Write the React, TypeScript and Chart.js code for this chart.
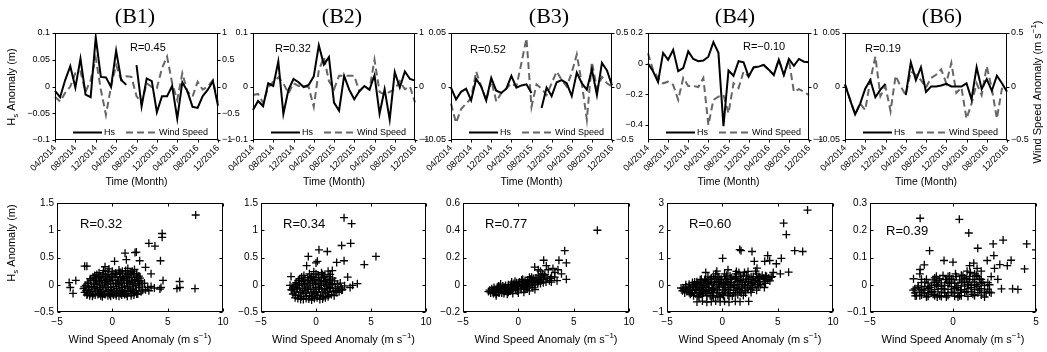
import React, { useEffect, useRef } from 'react';
import { Chart, registerables } from 'chart.js';
Chart.register(...registerables);

const SANS = "'Liberation Sans', Arial, Helvetica, sans-serif";
const SERIF = "'Liberation Serif', 'Times New Roman', serif";
Chart.defaults.font.family = SANS;
Chart.defaults.color = '#000';

// ---------- time axis ----------
const months = ['04/2014','05/2014','06/2014','07/2014','08/2014','09/2014','10/2014','11/2014','12/2014',
  '01/2015','02/2015','03/2015','04/2015','05/2015','06/2015','07/2015','08/2015','09/2015','10/2015','11/2015','12/2015',
  '01/2016','02/2016','03/2016','04/2016','05/2016','06/2016','07/2016','08/2016','09/2016','10/2016','11/2016','12/2016'];
const monthTickLabels = ['04/2014','08/2014','12/2014','04/2015','08/2015','12/2015','04/2016','08/2016','12/2016'];

// ---------- monthly anomaly series ----------
const b1Hs = [-0.008, -0.02, 0.012, 0.038, -0.002, 0.052, -0.015, -0.02, 0.092, 0.018, 0.017,
  -0.001, 0.067, 0.012, 0.003, null, 0.04, -0.037, 0.015, 0.01, -0.048, -0.018,
  -0.018, 0.001, -0.06, 0.008, -0.009, -0.038, -0.04, -0.018, -0.006, 0.01, -0.036];
const b1Wind = [-0.19, -0.28, -0.12, 0, 0.25, 0.28, -0.1, 0.12, 0.53, -0.06, -0.53,
  0, 0.4, 0.12, 0.19, 0.18, -0.18, -0.31, 0.06, -0.01, -0.03, 0.34,
  0.56, 0.06, -0.25, 0.25, -0.1, -0.19, 0.09, -0.06, 0, 0.12, -0.31];
const b2Hs = [-0.044, -0.027, -0.037, 0.006, 0.001, 0.047, -0.051, -0.006, 0.014, 0.008, -0.001,
  0.003, 0.019, 0.077, 0.041, 0.055, -0.03, -0.045, 0.02, -0.006, -0.024, -0.009,
  0.001, -0.006, 0.021, -0.051, -0.005, -0.062, 0.027, -0.002, 0.028, 0.014, 0.011];
const b2Wind = [-0.16, -0.14, -0.31, -0.02, 0.09, 0.17, 0.06, -0.13, 0.06, 0.01, 0,
  -0.01, -0.38, 0.3, 0.55, 0.1, -0.05, 0.2, 0.2, 0.2, 0.2, -0.09,
  0.01, -0.06, 0.5, -0.1, -0.15, -0.1, -0.05, 0.1, -0.05, 0, -0.3];
const b3Hs = [-0.001, -0.012, -0.005, -0.002, -0.013, 0.007, 0, -0.013, 0.008, -0.004, -0.006,
  -0.002, 0.01, -0.001, 0.001, 0.002, -0.006, null, -0.02, -0.001, -0.009, 0.004,
  0.006, 0.003, -0.009, 0.013, 0.003, -0.003, 0.016, -0.008, 0.022, 0.015, 0.001];
const b3Wind = [-0.16, -0.34, -0.21, -0.16, -0.11, 0.14, 0, -0.13, 0.06, -0.14, -0.06,
  -0.02, 0.03, 0, 0.22, 0.45, -0.19, 0.02, -0.02, -0.08, 0.03, 0.14,
  0.06, 0, 0.13, 0.3, 0.03, -0.31, 0.23, -0.02, 0.09, 0.03, 0];
const b4Hs = [0, -0.05, -0.12, 0.07, 0.025, 0.09, -0.05, -0.03, 0.08, 0.03, 0.015,
  0.02, 0.045, 0.14, 0.07, -0.41, -0.045, -0.08, 0.015, 0.008, -0.085, -0.025,
  -0.02, -0.008, -0.04, -0.075, 0.025, -0.075, 0.03, -0.015, 0.03, 0.012, 0.008];
const b4Wind = [0.62, 0.31, 0.16, 0.06, 0.09, 0.03, -0.25, 0.16, 0.01, 0.01, -0.01,
  0.16, -0.72, -0.25, -0.19, -0.16, -0.5, 0.06, -0.03, 0.28, 0.19, 0.36,
  0.38, 0.4, 0.31, 0.22, 0.5, 0.22, 0.5, -0.1, -0.05, -0.1, -0.16];
const b6Hs = [0.002, -0.0125, -0.026, -0.016, -0.002, 0.006, -0.01, -0.003, 0.0025, null, null,
  null, -0.008, 0.0225, 0.006, 0.018, -0.005, 0, 0, 0.001, 0.0025, 0,
  0, 0, 0.003, -0.012, 0.018, -0.0025, 0.007, -0.004, 0.01, 0.003, -0.005];
const b6Wind = [0.02, -0.12, -0.26, -0.16, -0.22, 0.06, 0.28, -0.09, 0, -0.23, 0.1,
  0, -0.08, 0.14, 0.11, 0.06, -0.01, 0.08, 0.11, 0.16, 0.03, 0.22,
  -0.06, -0.01, -0.3, -0.16, 0.03, -0.08, 0.19, -0.02, -0.3, -0.02, -0.02];

// ---------- scatter samples [wind anomaly, Hs anomaly] ----------
const s1Points = [
  [-2.3,-0.19],[-1.8,-0.21],[-1.3,-0.18],[-0.9,-0.22],[-0.4,-0.2],[0.1,-0.19],[0.6,-0.21],[1.1,-0.18],[1.7,-0.2],[2.2,-0.17],
  [-2.5,-0.14],[-2.0,-0.16],[-1.5,-0.13],[-1.0,-0.15],[-0.5,-0.12],[0.0,-0.16],[0.5,-0.13],[1.0,-0.15],[1.5,-0.12],[2.0,-0.14],[2.6,-0.13],[3.3,-0.11],
  [-2.6,-0.07],[-2.1,-0.09],[-1.6,-0.06],[-1.1,-0.08],[-0.6,-0.05],[-0.1,-0.09],[0.4,-0.07],[0.9,-0.1],[1.4,-0.06],[1.9,-0.08],[2.4,-0.05],[3.0,-0.09],[3.8,-0.06],[4.3,-0.08],
  [-2.4,-0.01],[-1.9,-0.03],[-1.4,0.0],[-0.9,-0.02],[-0.4,0.01],[0.1,-0.03],[0.6,0.0],[1.1,-0.02],[1.6,0.01],[2.1,-0.01],[2.7,0.02],[3.5,-0.03],
  [-2.2,0.05],[-1.7,0.03],[-1.2,0.06],[-0.7,0.04],[-0.2,0.07],[0.3,0.03],[0.8,0.05],[1.3,0.08],[1.8,0.04],[2.3,0.06],[2.9,0.03],
  [-2.0,0.11],[-1.5,0.09],[-1.0,0.12],[-0.5,0.1],[0.0,0.13],[0.5,0.09],[1.0,0.11],[1.5,0.14],[2.0,0.1],[2.5,0.12],
  [-1.6,0.17],[-1.1,0.15],[-0.6,0.18],[-0.1,0.16],[0.4,0.19],[0.9,0.15],[1.4,0.18],[1.9,0.2],[2.4,0.16],
  [-1.2,0.22],[-0.4,0.24],[0.3,0.21],[0.9,0.25],[1.6,0.23],[2.2,0.21],
  [-0.3,0.29],[0.6,0.27],[1.4,0.3],[2.0,0.28],
  [7.53,1.28],[4.5,0.94],[4.5,0.87],[3.3,0.76],[3.85,0.71],[4.35,0.44],[1.15,0.58],[2.17,0.6],[2.05,0.59],[1.27,0.46],
  [-0.66,0.33],[-2.5,0.34],[-2.3,0.34],[-3.9,0.04],[-3.3,0.08],[-3.8,-0.05],[-3.55,-0.16],[7.47,-0.07],[5.84,-0.07],[6.1,-0.05],
  [6.08,0.06],[4.58,0.08],[4.4,-0.05],[3.5,0.2],[3.0,0.32],[2.47,0.44],[0.2,0.43]];
const s1Dense = [
  [-2.05,-0.2],[-1.55,-0.19],[-1.05,-0.2],[-0.65,-0.18],[-0.15,-0.21],[0.35,-0.2],[0.85,-0.19],[1.35,-0.21],[1.95,-0.19],
  [-2.25,-0.17],[-1.75,-0.18],[-1.25,-0.16],[-0.75,-0.17],[-0.25,-0.18],[0.25,-0.17],[0.75,-0.16],[1.25,-0.17],[1.75,-0.16],[2.3,-0.17],
  [-2.35,-0.11],[-1.85,-0.12],[-1.35,-0.1],[-0.85,-0.12],[-0.35,-0.1],[0.15,-0.12],[0.65,-0.11],[1.15,-0.12],[1.65,-0.1],[2.15,-0.11],[2.75,-0.1],
  [-2.55,-0.04],[-2.15,-0.05],[-1.65,-0.03],[-1.15,-0.05],[-0.65,-0.02],[-0.15,-0.05],[0.35,-0.03],[0.85,-0.05],[1.35,-0.03],[1.85,-0.04],[2.45,-0.02],[3.2,-0.05],
  [-2.2,0.02],[-1.65,0.01],[-1.15,0.03],[-0.65,0.01],[-0.15,0.03],[0.35,0.01],[0.85,0.02],[1.35,0.03],[1.85,0.01],[2.4,0.02],
  [-1.95,0.08],[-1.45,0.07],[-0.95,0.08],[-0.45,0.06],[0.05,0.08],[0.55,0.07],[1.05,0.08],[1.55,0.06],[2.05,0.08],[2.6,0.07],
  [-1.75,0.14],[-1.25,0.13],[-0.75,0.15],[-0.25,0.13],[0.25,0.14],[0.75,0.13],[1.25,0.15],[1.75,0.13],[2.25,0.14],
  [-1.4,0.19],[-0.85,0.2],[-0.35,0.19],[0.15,0.2],[0.65,0.21],[1.15,0.2],[1.7,0.19],[2.2,0.18],
  [-0.8,0.26],[0.0,0.25],[0.7,0.23],[1.2,0.26],[1.8,0.25]];
const s2Points = [
  [-1.9,-0.24],[-1.4,-0.27],[-0.9,-0.25],[-0.4,-0.28],[0.1,-0.24],[0.6,-0.26],[1.1,-0.22],
  [-2.1,-0.17],[-1.6,-0.19],[-1.1,-0.16],[-0.6,-0.2],[-0.1,-0.17],[0.4,-0.19],[0.9,-0.15],[1.4,-0.18],[1.9,-0.14],
  [-2.2,-0.1],[-1.7,-0.08],[-1.2,-0.11],[-0.7,-0.09],[-0.2,-0.12],[0.3,-0.08],[0.8,-0.1],[1.3,-0.07],[1.8,-0.11],[2.4,-0.09],
  [-2.0,-0.03],[-1.5,-0.01],[-1.0,-0.04],[-0.5,-0.02],[0.0,-0.05],[0.5,-0.01],[1.0,-0.03],[1.5,0.0],[2.0,-0.04],[2.6,-0.02],[3.1,-0.05],
  [-1.8,0.04],[-1.3,0.06],[-0.8,0.03],[-0.3,0.05],[0.2,0.02],[0.7,0.06],[1.2,0.04],[1.7,0.07],[2.2,0.03],
  [-1.5,0.11],[-1.0,0.09],[-0.5,0.12],[0.0,0.1],[0.5,0.13],[1.0,0.1],[1.5,0.12],
  [-1.1,0.17],[-0.4,0.15],[0.2,0.18],[0.8,0.16],[1.3,0.19],
  [-0.2,0.24],[0.5,0.22],[1.1,0.25],
  [2.55,1.23],[3.24,1.12],[2.33,0.72],[3.15,0.76],[0.27,0.64],[1.03,0.61],[-0.7,0.52],[2.55,0.44],[1.88,0.41],[5.45,0.52],
  [4.39,0.37],[3.76,0.02],[3.33,-0.01],[2.88,0.14],[2.33,-0.1],[-2.27,0.15],[-2.36,-0.01],[-2.24,-0.09],[-0.85,0.35],[0.12,0.43],
  [1.48,0.26],[0.0,0.4]];
const s2Dense = [
  [-1.65,-0.25],[-1.15,-0.27],[-0.65,-0.26],[-0.15,-0.25],[0.35,-0.27],[0.85,-0.24],
  [-1.85,-0.2],[-1.35,-0.22],[-0.85,-0.21],[-0.35,-0.22],[0.15,-0.2],[0.65,-0.22],[1.15,-0.19],[1.65,-0.2],
  [-1.95,-0.13],[-1.45,-0.14],[-0.95,-0.13],[-0.45,-0.15],[0.05,-0.14],[0.55,-0.13],[1.05,-0.14],[1.55,-0.12],[2.1,-0.13],
  [-2.1,-0.06],[-1.75,-0.05],[-1.25,-0.07],[-0.75,-0.06],[-0.25,-0.08],[0.25,-0.05],[0.75,-0.07],[1.25,-0.05],[1.75,-0.07],[2.3,-0.06],
  [-1.9,0.01],[-1.55,0.02],[-1.05,0.0],[-0.55,0.02],[-0.05,0.01],[0.45,0.03],[0.95,0.0],[1.45,0.02],[1.95,0.01],
  [-1.6,0.08],[-1.15,0.07],[-0.65,0.08],[-0.15,0.07],[0.35,0.08],[0.85,0.07],[1.3,0.09],
  [-1.3,0.14],[-0.75,0.13],[-0.25,0.14],[0.25,0.13],[0.7,0.14],[1.2,0.15],
  [-0.6,0.2],[0.0,0.2],[0.6,0.19]];
const s3Points = [
  [-2.5,-0.06],[-2.4,-0.03],[-2.0,-0.07],[-2.1,-0.04],[-1.9,-0.02],[-1.5,-0.06],[-1.6,-0.035],[-1.4,-0.01],
  [-1.0,-0.05],[-1.1,-0.025],[-0.9,0.0],[-0.5,-0.04],[-0.6,-0.015],[-0.4,0.01],[0.0,-0.03],[-0.1,-0.005],[0.1,0.02],
  [0.5,-0.02],[0.4,0.005],[0.6,0.03],[1.0,-0.01],[0.9,0.015],[1.1,0.04],[1.5,0.0],[1.4,0.025],[1.6,0.05],
  [2.0,0.01],[1.9,0.035],[2.1,0.06],[2.5,0.02],[2.6,0.05],[2.4,0.075],
  [-1.75,-0.05],[-1.25,-0.02],[-0.75,-0.03],[-0.25,0.0],[0.25,-0.01],[0.75,0.01],[1.25,0.02],[1.75,0.015],[2.25,0.04],
  [-2.2,-0.055],[-0.8,-0.045],[0.3,0.035],[1.2,0.055],[-1.3,-0.065],[0.8,-0.025],[2.8,0.03],[3.0,0.06],[-1.8,-0.01],[-0.3,0.025],[1.8,0.07],
  [7.14,0.4],[4.19,0.25],[4.34,0.16],[3.67,0.18],[2.29,0.18],[2.53,0.14],[1.48,0.13],[3.13,0.12],[3.58,0.11],[4.34,0.04],
  [2.98,0.02],[-2.6,-0.04],[3.28,0.056],[2.0,0.1],[3.3,0.09],[2.7,0.11],[3.9,0.08],[1.8,0.11],[3.5,0.03]];
const s3Dense = [
  [-2.25,-0.065],[-2.3,-0.04],[-2.2,-0.02],[-1.75,-0.06],[-1.7,-0.03],[-1.65,-0.01],[-1.25,-0.05],[-1.2,-0.03],[-1.15,-0.005],
  [-0.75,-0.045],[-0.7,-0.02],[-0.65,0.005],[-0.25,-0.035],[-0.2,-0.01],[-0.15,0.015],[0.25,-0.025],[0.3,0.0],[0.35,0.025],
  [0.75,-0.015],[0.8,0.01],[0.85,0.035],[1.25,-0.005],[1.3,0.02],[1.35,0.045],[1.75,0.005],[1.8,0.03],[1.85,0.055],
  [2.25,0.015],[2.3,0.04],[2.35,0.065],[-2.7,-0.05],[-2.0,-0.05],[-1.5,-0.04],[-1.0,-0.035],[-0.5,-0.025],[0.0,-0.015],
  [0.5,-0.005],[1.0,0.005],[1.5,0.015],[2.0,0.025],[-0.9,-0.055],[-0.1,-0.045],[0.6,-0.035],[1.3,-0.02],[-1.6,0.005],
  [-0.6,0.02],[0.4,0.04],[1.0,0.055],[2.2,0.08],[2.9,0.045],
  [-2.0,-0.08],[-1.0,-0.07],[0.0,-0.06],[1.0,-0.045],[-0.5,-0.065],[0.5,-0.055],[1.5,-0.035]];
const s4Points = [
  [-3.5,-0.15],[-3.2,-0.25],[-3.0,-0.1],[-2.8,-0.3],[-2.6,-0.05],[-2.4,-0.2],[-2.2,0.05],[-2.0,-0.35],[-1.8,-0.1],[-1.6,0.15],
  [-1.5,-0.25],[-1.3,0.05],[-1.1,-0.4],[-1.0,0.25],[-0.9,-0.15],[-0.7,0.1],[-0.5,-0.3],[-0.4,0.3],[-0.3,-0.05],[-0.1,0.2],
  [0.0,-0.35],[0.1,0.05],[0.3,-0.2],[0.4,0.35],[0.5,0.1],[0.7,-0.1],[0.8,0.25],[1.0,-0.3],[1.1,0.0],[1.3,0.3],
  [1.4,-0.15],[1.6,0.15],[1.8,-0.05],[1.9,0.35],[2.1,0.1],[2.3,-0.15],[2.4,0.25],[2.6,0.05],[2.8,0.3],[3.0,0.15],
  [3.2,0.0],[3.4,0.25],[3.6,0.35],[3.8,0.2],[4.0,0.3],[4.2,0.25],[4.5,0.3],[-2.9,-0.35],[-2.5,0.1],[-1.9,0.2],
  [-1.2,-0.2],[-0.6,0.4],[-0.2,-0.45],[0.2,0.4],[0.6,-0.4],[1.2,0.4],[1.7,-0.3],[2.0,0.45],[2.7,-0.1],[-3.3,0.0],
  [-0.8,-0.45],[1.5,0.45],[3.1,0.4],[-2.1,-0.45],
  [-2.29,-0.63],[-1.8,-0.6],[-1.4,-0.64],[-1.0,-0.62],[-0.6,-0.6],[-0.2,-0.63],[0.2,-0.61],[0.6,-0.64],[1.17,-0.61],[1.6,-0.62],[2.38,-0.61],
  [7.7,2.74],[5.54,2.26],[5.78,1.84],[6.54,1.25],[7.26,1.22],[1.57,1.29],[1.69,1.25],[2.68,1.22],[0.03,0.97],[4.1,1.07],
  [2.89,0.86],[3.83,0.86],[4.28,0.89],[4.88,0.77],[5.33,0.97],[3.13,0.61],[0.51,0.55],[1.27,0.49],[2.32,0.49],[5.99,0.46],
  [5.24,0.4],[-3.73,-0.12],[-0.5,0.5],[-1.5,0.45],[3.0,0.5],[4.6,0.45]];
const s4Dense = [
  [-2.6,-0.4],[-2.2,-0.42],[-1.8,-0.38],[-1.4,-0.41],[-0.9,-0.39],[-0.4,-0.42],[0.1,-0.4],[0.5,-0.38],[0.9,-0.41],[1.4,-0.37],[1.9,-0.39],
  [-3.4,-0.3],[-3.0,-0.28],[-2.5,-0.31],[-2.1,-0.27],[-1.7,-0.3],[-1.3,-0.32],[-0.8,-0.28],[-0.3,-0.3],[0.2,-0.27],[0.7,-0.31],[1.2,-0.29],[1.6,-0.27],[2.1,-0.3],[2.6,-0.28],
  [-3.6,-0.22],[-3.1,-0.18],[-2.7,-0.2],[-2.3,-0.17],[-1.9,-0.21],[-1.4,-0.19],[-0.95,-0.22],[-0.45,-0.18],[0.05,-0.2],[0.55,-0.17],[1.05,-0.21],[1.55,-0.19],[2.05,-0.22],[2.55,-0.18],[3.1,-0.2],
  [-3.3,-0.08],[-2.9,-0.11],[-2.45,-0.09],[-2.05,-0.12],[-1.65,-0.08],[-1.2,-0.1],[-0.75,-0.12],[-0.25,-0.09],[0.25,-0.11],[0.75,-0.08],[1.25,-0.1],[1.75,-0.12],[2.25,-0.09],[2.75,-0.11],[3.3,-0.08],[3.8,-0.1],
  [-3.0,0.02],[-2.6,-0.01],[-2.1,0.01],[-1.7,-0.02],[-1.25,0.02],[-0.8,0.0],[-0.35,0.02],[0.15,-0.01],[0.6,0.01],[1.05,-0.02],[1.5,0.01],[2.0,0.0],[2.5,-0.02],[2.95,0.02],[3.45,0.0],[3.9,0.05],
  [-2.7,0.08],[-2.3,0.11],[-1.85,0.09],[-1.4,0.12],[-0.95,0.08],[-0.5,0.11],[-0.05,0.09],[0.4,0.12],[0.85,0.08],[1.35,0.11],[1.85,0.09],[2.35,0.12],[2.85,0.08],[3.35,0.11],[3.85,0.12],[4.3,0.14],
  [-2.0,0.18],[-1.55,0.21],[-1.1,0.19],[-0.65,0.22],[-0.2,0.18],[0.3,0.21],[0.75,0.19],[1.2,0.22],[1.7,0.18],[2.2,0.21],[2.7,0.19],[3.2,0.22],[3.7,0.24],[4.1,0.2],
  [-1.3,0.29],[-0.8,0.31],[-0.3,0.28],[0.2,0.3],[0.7,0.32],[1.15,0.28],[1.65,0.3],[2.2,0.32],[2.6,0.29],[3.3,0.3],[3.9,0.33],[4.4,0.27]];
const s5Points = [
  [-2.3,-0.03],[-2.0,-0.04],[-1.8,-0.02],[-1.6,-0.045],[-1.4,-0.01],[-1.2,-0.035],[-1.0,0.0],[-0.8,-0.04],[-0.6,-0.015],[-0.4,-0.045],
  [-0.2,0.005],[0.0,-0.03],[0.2,-0.01],[0.4,-0.04],[0.6,0.01],[0.8,-0.025],[1.0,0.02],[1.2,-0.035],[1.4,0.0],[1.6,-0.02],[1.8,0.01],[2.0,-0.03],
  [-2.1,-0.01],[-1.7,0.01],[-1.3,-0.025],[-0.9,0.015],[-0.5,-0.03],[-0.1,0.02],[0.3,-0.045],[0.7,0.025],[1.1,-0.01],[1.5,0.03],[1.9,-0.045],
  [-1.9,0.02],[-1.5,-0.03],[-1.1,0.025],[-0.7,-0.005],[-0.3,0.03],[0.1,0.005],[0.5,0.035],[0.9,0.0],[1.3,0.04],[1.7,0.02],[2.2,0.0],
  [-2.4,-0.02],[-0.95,-0.045],[0.15,0.04],[0.85,0.05],[1.45,0.06],[-0.45,0.02],[0.45,-0.02],[1.05,0.045],[1.7,0.05],[2.3,0.03],
  [-1.98,0.244],[0.38,0.24],[0.95,0.19],[-1.41,0.125],[1.49,0.134],[2.42,0.15],[3.02,0.164],[4.44,0.15],[5.0,0.128],[2.46,0.107],
  [2.06,0.089],[2.82,0.074],[3.27,0.07],[3.5,0.09],[4.31,0.058],[-0.54,0.089],[0.0,0.083],[-1.73,0.073],[-1.98,0.056],[1.25,0.079],
  [2.92,-0.015],[3.59,-0.015],[3.91,-0.017],[2.2,-0.027],[-2.28,-0.041],[-2.38,0.022],[2.5,0.06],[2.7,0.02],[-2.0,0.04],[1.0,0.07]];
const s5Dense = [
  [-2.2,-0.04],[-1.9,-0.038],[-1.5,-0.042],[-1.1,-0.04],[-0.7,-0.043],[-0.3,-0.039],[0.1,-0.042],[0.5,-0.04],[0.9,-0.043],[1.3,-0.04],[1.7,-0.038],
  [-2.0,-0.027],[-1.7,-0.03],[-1.3,-0.028],[-0.9,-0.026],[-0.5,-0.029],[-0.1,-0.027],[0.3,-0.03],[0.7,-0.028],[1.1,-0.026],[1.5,-0.029],[1.9,-0.027],[2.3,-0.03],
  [-2.3,-0.015],[-1.9,-0.017],[-1.5,-0.014],[-1.1,-0.018],[-0.7,-0.015],[-0.3,-0.017],[0.1,-0.014],[0.5,-0.018],[0.9,-0.015],[1.3,-0.017],[1.7,-0.014],[2.1,-0.016],
  [-2.1,-0.004],[-1.7,-0.006],[-1.3,-0.003],[-0.9,-0.005],[-0.5,-0.002],[-0.1,-0.006],[0.3,-0.003],[0.7,-0.005],[1.1,-0.002],[1.5,-0.006],[1.9,-0.003],
  [-1.9,0.008],[-1.5,0.006],[-1.1,0.009],[-0.7,0.007],[-0.3,0.01],[0.1,0.006],[0.5,0.009],[0.9,0.007],[1.3,0.01],[1.7,0.006],[2.1,0.008],
  [-1.6,0.02],[-1.2,0.018],[-0.8,0.022],[-0.4,0.019],[0.0,0.021],[0.4,0.018],[0.8,0.022],[1.2,0.019],[1.6,0.021],
  [-1.0,0.031],[-0.6,0.034],[-0.2,0.032],[0.2,0.03],[0.6,0.033],[1.0,0.031],[1.4,0.034]];

// ---------- tick values ----------
const hsTicksB1 = [-0.1, -0.05, 0, 0.05, 0.1];
const windTicksB1 = [-1, -0.5, 0, 0.5, 1];
const hsTicksB2 = [-0.1, 0, 0.1];
const windTicksB2 = [-1, 0, 1];
const hsTicksB3 = [-0.05, 0, 0.05];
const windTicksB3 = [-0.5, 0, 0.5];
const hsTicksB4 = [-0.4, -0.2, 0, 0.2];
const windTicksB4 = [-1, 0, 1];
const hsTicksB6 = [-0.05, 0, 0.05];
const windTicksB6 = [-0.5, 0, 0.5];
const scatterXTicksWide = [-5, 0, 5, 10];
const scatterXTicksNarrow = [-5, 0, 5];
const scatterYTicks1 = [-0.5, 0, 0.5, 1, 1.5];
const scatterYTicks3 = [-0.2, 0, 0.2, 0.4, 0.6];
const scatterYTicks4 = [-1, 0, 1, 2, 3];
const scatterYTicks5 = [-0.1, 0, 0.1, 0.2, 0.3];

const panelTitles = ['(B1)', '(B2)', '(B3)', '(B4)', '(B6)'];
const lineR = ['R=0.45', 'R=0.32', 'R=0.52', 'R=\u22120.10', 'R=0.19'];
const scatterR = ['R=0.32', 'R=0.34', 'R=0.77', 'R=0.60', 'R=0.39'];

// ---------- helpers ----------
const fmt = (v: any) => String(parseFloat(Number(v).toFixed(6))).replace('-', '\u2212');

type Seg = { t: string; s?: 'sub' | 'sup' };
type TextItem = { x: number; y: number; segs: Seg[]; size: number; family?: string; rot?: number; align?: 'left' | 'center' };

function drawRich(ctx: CanvasRenderingContext2D, it: TextItem, ox: number, oy: number) {
  const fam = it.family || SANS;
  const sizes = it.segs.map(s => (s.s ? it.size * 0.72 : it.size));
  const widths = it.segs.map((s, i) => { ctx.font = `${sizes[i]}px ${fam}`; return ctx.measureText(s.t).width; });
  const total = widths.reduce((a, b) => a + b, 0);
  ctx.save();
  ctx.translate(it.x - ox, it.y - oy);
  if (it.rot) ctx.rotate(it.rot);
  let x = it.align === 'left' ? 0 : -total / 2;
  ctx.textAlign = 'left';
  ctx.textBaseline = 'middle';
  ctx.fillStyle = '#000';
  it.segs.forEach((s, i) => {
    ctx.font = `${sizes[i]}px ${fam}`;
    const dy = s.s === 'sub' ? it.size * 0.32 : s.s === 'sup' ? -it.size * 0.38 : 0;
    ctx.fillText(s.t, x, dy);
    x += widths[i];
  });
  ctx.restore();
}

const decorPlugin = {
  id: 'decor',
  afterDraw(chart: any, _args: any, o: any) {
    const ctx = chart.ctx as CanvasRenderingContext2D;
    const a = chart.chartArea;
    const L = Math.round(a.left) + 0.5, R = Math.round(a.right) - 0.5;
    const T = Math.round(a.top) + 0.5, B = Math.round(a.bottom) - 0.5;
    ctx.save();
    ctx.setLineDash([]);
    ctx.strokeStyle = '#000';
    ctx.lineWidth = 1;
    ctx.strokeRect(L, T, R - L, B - T);
    const len = o.tickLen as number;
    const sg = o.tickIn ? 1 : -1;
    ctx.beginPath();
    for (const sc of Object.values(chart.scales) as any[]) {
      for (const tk of sc.ticks) {
        const p = Math.round(sc.getPixelForValue(tk.value)) + 0.5;
        if (sc.axis === 'x') {
          ctx.moveTo(p, B); ctx.lineTo(p, B - sg * len);
          if (o.mirror) { ctx.moveTo(p, T); ctx.lineTo(p, T + sg * len); }
        } else if (sc.position === 'left') {
          ctx.moveTo(L, p); ctx.lineTo(L + sg * len, p);
          if (o.mirror) { ctx.moveTo(R, p); ctx.lineTo(R - sg * len, p); }
        } else {
          ctx.moveTo(R, p); ctx.lineTo(R - sg * len, p);
        }
      }
    }
    ctx.stroke();
    if (o.legend) {
      const y = Math.round(a.bottom - 8) + 0.5;
      const x0 = a.left + 18;
      ctx.lineWidth = 2;
      ctx.strokeStyle = '#000';
      ctx.beginPath(); ctx.moveTo(x0, y); ctx.lineTo(x0 + 29, y); ctx.stroke();
      ctx.strokeStyle = '#666';
      ctx.setLineDash([7, 4]);
      ctx.beginPath(); ctx.moveTo(x0 + 53, y); ctx.lineTo(x0 + 84, y); ctx.stroke();
      ctx.setLineDash([]);
      ctx.fillStyle = '#000';
      ctx.font = `9px ${SANS}`;
      ctx.textAlign = 'left';
      ctx.textBaseline = 'middle';
      ctx.fillText('Hs', x0 + 31, y);
      ctx.fillText('Wind Speed', x0 + 86, y);
    }
    for (const it of (o.texts || []) as TextItem[]) drawRich(ctx, it, o.ox, o.oy);
    ctx.restore();
  },
};

// ---------- geometry ----------
const TOP_T = 33, TOP_B = 140;
const topPlots = [
  { l: 55, r: 218, title: 135, hs: b1Hs, wind: b1Wind, hsMin: -0.1, hsMax: 0.1, hsTicks: hsTicksB1, wMin: -1, wMax: 1, wTicks: windTicksB1, rx: 130, ry: 48 },
  { l: 253, r: 415, title: 342, hs: b2Hs, wind: b2Wind, hsMin: -0.1, hsMax: 0.1, hsTicks: hsTicksB2, wMin: -1, wMax: 1, wTicks: windTicksB2, rx: 275, ry: 49 },
  { l: 451, r: 612, title: 549, hs: b3Hs, wind: b3Wind, hsMin: -0.05, hsMax: 0.05, hsTicks: hsTicksB3, wMin: -0.5, wMax: 0.5, wTicks: windTicksB3, rx: 470, ry: 50 },
  { l: 648, r: 809, title: 735, hs: b4Hs, wind: b4Wind, hsMin: -0.5, hsMax: 0.2, hsTicks: hsTicksB4, wMin: -1, wMax: 1, wTicks: windTicksB4, rx: 743, ry: 47 },
  { l: 845, r: 1007, title: 942, hs: b6Hs, wind: b6Wind, hsMin: -0.05, hsMax: 0.05, hsTicks: hsTicksB6, wMin: -0.5, wMax: 0.5, wTicks: windTicksB6, rx: 865, ry: 49 },
];
const BOT_T = 202, BOT_B = 312;
const botPlots = [
  { l: 57, r: 223, pts: s1Points.concat(s1Dense), xMax: 10, xTicks: scatterXTicksWide, yMin: -0.5, yMax: 1.5, yTicks: scatterYTicks1, rx: 80, ry: 224 },
  { l: 261, r: 426, pts: s2Points.concat(s2Dense), xMax: 10, xTicks: scatterXTicksWide, yMin: -0.5, yMax: 1.5, yTicks: scatterYTicks1, rx: 283, ry: 224 },
  { l: 463, r: 629, pts: s3Points.concat(s3Dense), xMax: 10, xTicks: scatterXTicksWide, yMin: -0.2, yMax: 0.6, yTicks: scatterYTicks3, rx: 485, ry: 224 },
  { l: 667, r: 833, pts: s4Points.concat(s4Dense), xMax: 10, xTicks: scatterXTicksWide, yMin: -1, yMax: 3, yTicks: scatterYTicks4, rx: 689, ry: 224 },
  { l: 870, r: 1036, pts: s5Points.concat(s5Dense), xMax: 5, xTicks: scatterXTicksNarrow, yMin: -0.1, yMax: 0.3, yTicks: scatterYTicks5, rx: 886, ry: 231 },
];

type PanelSpec = { left: number; top: number; width: number; height: number; config: any };

function makeTop(i: number): PanelSpec {
  const p = topPlots[i];
  const AL = 52, AR = i === 4 ? 40 : 36, PT = 30, AB = 56;
  const left = p.l - AL, top = TOP_T - PT;
  const width = AL + (p.r - p.l) + AR, height = PT + (TOP_B - TOP_T) + AB;
  const texts: TextItem[] = [
    { x: p.title, y: 17, segs: [{ t: panelTitles[i] }], size: 22, family: SERIF },
    { x: p.rx, y: p.ry, segs: [{ t: lineR[i] }], size: 11, align: 'left' },
    { x: (p.l + p.r) / 2, y: 182.5, segs: [{ t: 'Time (Month)' }], size: 10.5 },
  ];
  if (i === 0) texts.push({ x: 12, y: 87, rot: -Math.PI / 2, size: 11, segs: [{ t: 'H' }, { t: 's', s: 'sub' }, { t: ' Anomaly (m)' }] });
  if (i === 4) texts.push({ x: 1038, y: 92, rot: -Math.PI / 2, size: 11, segs: [{ t: 'Wind Speed Anomaly (m s' }, { t: '\u22121', s: 'sup' }, { t: ')' }] });
  const config = {
    type: 'line',
    data: {
      labels: months,
      datasets: [
        { data: p.hs, borderColor: '#000', borderWidth: 2, pointRadius: 0, yAxisID: 'y', tension: 0, spanGaps: false },
        { data: p.wind, borderColor: '#666', borderWidth: 2, borderDash: [7, 4], pointRadius: 0, yAxisID: 'y2', tension: 0, spanGaps: false },
      ],
    },
    options: {
      responsive: false, animation: false, events: [],
      layout: { padding: { top: PT, left: 0, right: 0, bottom: 0 } },
      plugins: {
        legend: { display: false }, tooltip: { enabled: false },
        decor: { ox: left, oy: top, tickLen: 3, tickIn: false, mirror: false, legend: true, texts },
      },
      scales: {
        x: {
          type: 'category', offset: false,
          grid: { display: false, drawTicks: false }, border: { display: false },
          ticks: { autoSkip: false, maxRotation: 45, minRotation: 45, padding: 3, font: { size: 9 }, color: '#000',
            callback: (v: any) => months[v] },
          afterBuildTicks: (s: any) => { s.ticks = s.ticks.filter((t: any) => monthTickLabels.includes(months[t.value])); },
          afterFit: (s: any) => { s.height = AB; },
        },
        y: {
          position: 'left', min: p.hsMin, max: p.hsMax,
          grid: { display: false, drawTicks: false }, border: { display: false },
          ticks: { padding: 5, font: { size: 9 }, color: '#000', callback: fmt },
          afterBuildTicks: (s: any) => { s.ticks = p.hsTicks.map(v => ({ value: v })); },
          afterFit: (s: any) => { s.width = AL; },
        },
        y2: {
          position: 'right', min: p.wMin, max: p.wMax,
          grid: { display: false, drawTicks: false }, border: { display: false },
          ticks: { padding: 4, font: { size: 9 }, color: '#000', callback: fmt },
          afterBuildTicks: (s: any) => { s.ticks = p.wTicks.map(v => ({ value: v })); },
          afterFit: (s: any) => { s.width = AR; },
        },
      },
    },
    plugins: [decorPlugin],
  };
  return { left, top, width, height, config };
}

function makeBottom(i: number): PanelSpec {
  const p = botPlots[i];
  const AL = 55, AR = i === 4 ? 10 : 12, PT = 8, AB = 40;
  const left = p.l - AL, top = BOT_T - PT;
  const width = AL + (p.r - p.l) + AR, height = PT + (BOT_B - BOT_T) + AB;
  const texts: TextItem[] = [
    { x: p.rx, y: p.ry, segs: [{ t: scatterR[i] }], size: 13, align: 'left' },
    { x: (p.l + p.r) / 2, y: 340, size: 11, segs: [{ t: 'Wind Speed Anomaly (m s' }, { t: '\u22121', s: 'sup' }, { t: ')' }] },
  ];
  if (i === 0) texts.push({ x: 12, y: 243, rot: -Math.PI / 2, size: 11, segs: [{ t: 'H' }, { t: 's', s: 'sub' }, { t: ' Anomaly (m)' }] });
  const config = {
    type: 'scatter',
    data: {
      datasets: [{
        data: p.pts.map(([x, y]) => ({ x, y })),
        pointStyle: 'cross', pointRadius: 4, pointBorderWidth: 1.3, borderColor: '#000', backgroundColor: '#000', showLine: false,
      }],
    },
    options: {
      responsive: false, animation: false, events: [],
      layout: { padding: { top: PT, left: 0, right: AR, bottom: 0 } },
      plugins: {
        legend: { display: false }, tooltip: { enabled: false },
        decor: { ox: left, oy: top, tickLen: 3, tickIn: true, mirror: true, legend: false, texts },
      },
      scales: {
        x: {
          type: 'linear', min: -5, max: p.xMax,
          grid: { display: false, drawTicks: false }, border: { display: false },
          ticks: { padding: 4, font: { size: 10 }, color: '#000', callback: fmt, maxRotation: 0 },
          afterBuildTicks: (s: any) => { s.ticks = p.xTicks.map(v => ({ value: v })); },
          afterFit: (s: any) => { s.height = AB; },
        },
        y: {
          type: 'linear', position: 'left', min: p.yMin, max: p.yMax,
          grid: { display: false, drawTicks: false }, border: { display: false },
          ticks: { padding: 3, font: { size: 10 }, color: '#000', callback: fmt },
          afterBuildTicks: (s: any) => { s.ticks = p.yTicks.map(v => ({ value: v })); },
          afterFit: (s: any) => { s.width = AL; },
        },
      },
    },
    plugins: [decorPlugin],
  };
  return { left, top, width, height, config };
}

function Panel({ spec }: { spec: PanelSpec }) {
  const ref = useRef<HTMLCanvasElement>(null);
  useEffect(() => {
    const chart = new Chart(ref.current as HTMLCanvasElement, spec.config);
    return () => chart.destroy();
  }, []);
  return (
    <canvas ref={ref} width={spec.width} height={spec.height}
      style={{ position: 'absolute', left: spec.left, top: spec.top, width: spec.width, height: spec.height }} />
  );
}

export default function App() {
  const specs = [0, 1, 2, 3, 4].map(makeTop).concat([0, 1, 2, 3, 4].map(makeBottom));
  return (
    <div style={{ position: 'absolute', left: 0, top: 0, width: 1047, height: 352, overflow: 'hidden', background: '#fff' }}>
      {specs.map((s, i) => <Panel key={i} spec={s} />)}
    </div>
  );
}
